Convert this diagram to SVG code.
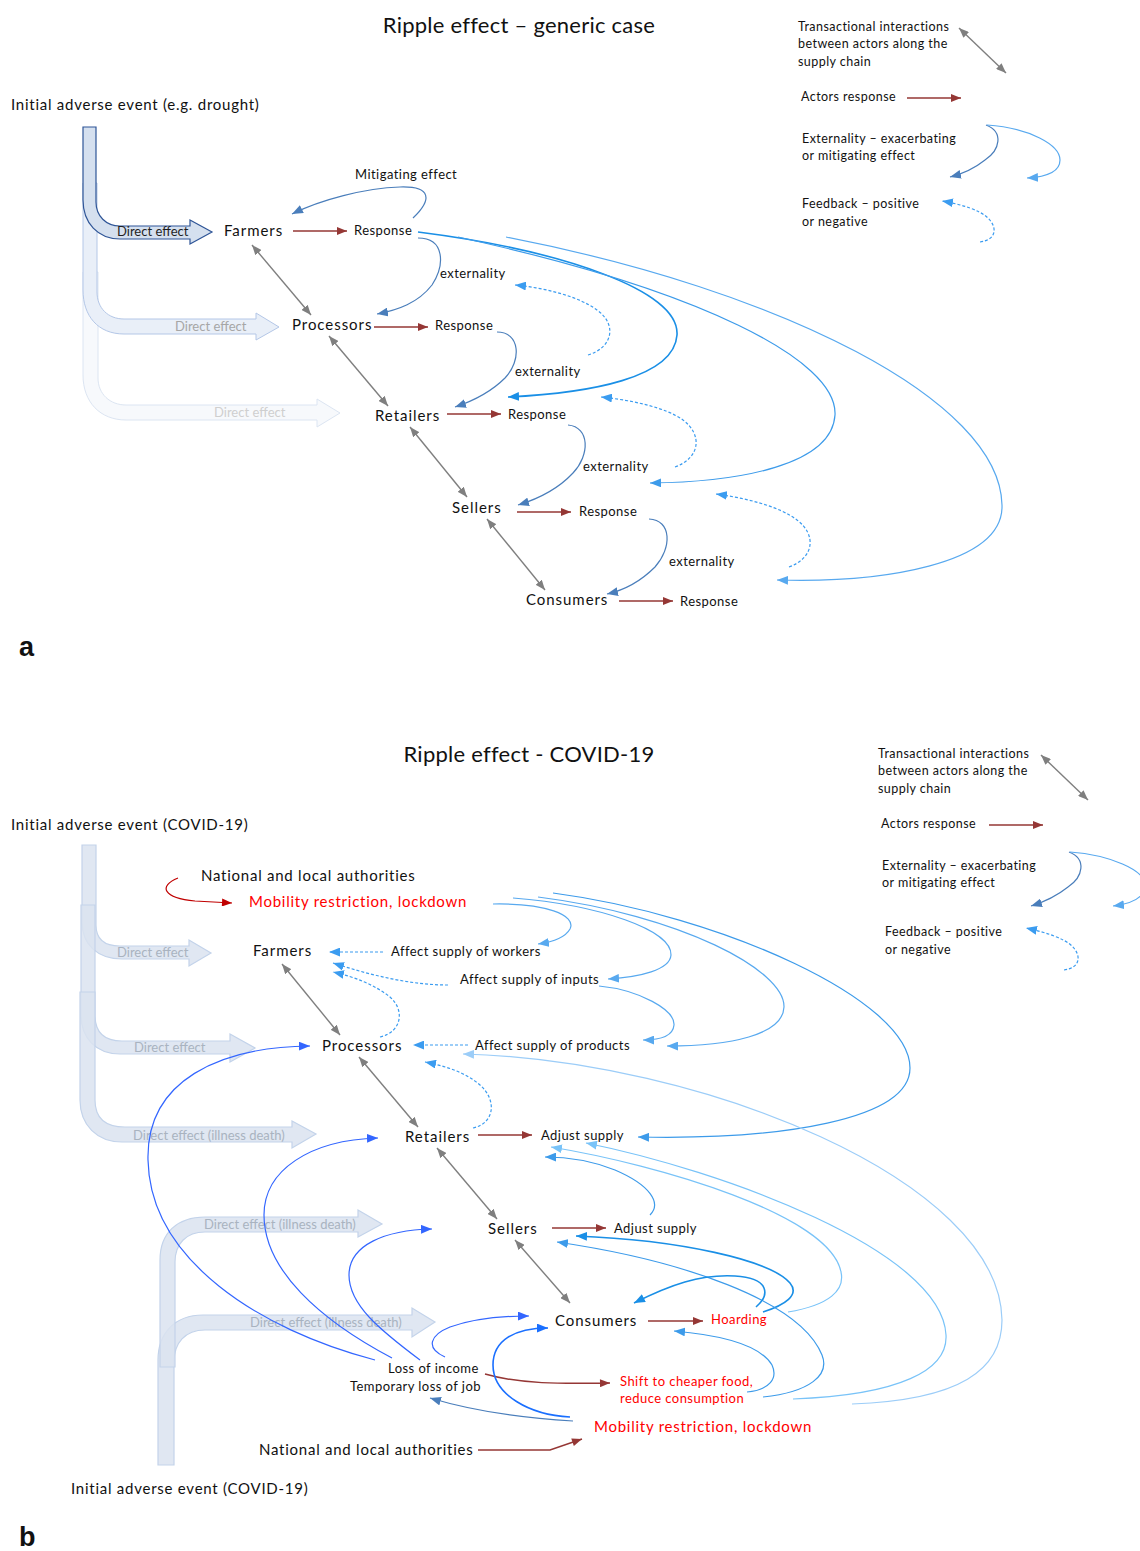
<svg xmlns="http://www.w3.org/2000/svg" width="1140" height="1551" viewBox="0 0 1140 1551">
<style>
text{font-family:Lato,"Liberation Sans",sans-serif;fill:#111}
.ttl{font-size:22px;letter-spacing:0.25px}
.lg{font-size:12.5px;letter-spacing:0.45px}
.nd{font-size:15px;letter-spacing:0.95px}
.sm{font-size:13px;letter-spacing:0.45px}
.big{font-size:15px;letter-spacing:0.75px}
.red{fill:#ff0000}
.lab{font-size:27px;font-weight:bold;font-family:"Liberation Sans",Arial,sans-serif}
.de1{font-size:13px;fill:#1f1f1f}
.de2{font-size:13px;fill:#a6a6a6}
.de3{font-size:13px;fill:#cfcfcf}
.deb{font-size:13px;fill:#a9b3c0}
.c{fill:none;stroke-width:1.2}
.rd{stroke:#953735;stroke-width:1.5;marker-end:url(#mR)}
.gr{stroke:#7f7f7f;stroke-width:1.4;marker-end:url(#mG);marker-start:url(#mG)}
.st{stroke:#4a7ebb;marker-end:url(#mS)}
.b1{stroke:#1a8fe6;stroke-width:1.6;marker-end:url(#mB1)}
.b2{stroke:#3d9bea;marker-end:url(#mB2)}
.b3{stroke:#58a9ef;marker-end:url(#mB3)}
.b4{stroke:#79c3f8;marker-end:url(#mB4)}
.b5{stroke:#9ccdf8;marker-end:url(#mB5)}
.v{stroke:#3366ff;marker-end:url(#mV)}
.v2{stroke:#1a6fff;stroke-width:1.6;marker-end:url(#mV2)}
.ds{stroke:#3b9cf0;stroke-dasharray:3,2;marker-end:url(#mD)}
.sa{fill:#d5e0ef;stroke:#2f5597;stroke-width:1.2}
.sb{fill:#e9eff8;stroke:#b4c7e7;stroke-width:1}
.sc{fill:#f7f9fc;stroke:#dce5f2;stroke-width:1}
.sl{fill:#dae3f0;stroke:#c3d3ea;stroke-width:1.2;fill-opacity:0.85}
</style>
<defs>
<marker id="mR" viewBox="0 0 10 8" refX="10" refY="4" markerWidth="11" markerHeight="8" markerUnits="userSpaceOnUse" orient="auto"><path d="M0,0L10,4L0,8z" fill="#953735"/></marker>
<marker id="mRB" viewBox="0 0 10 8" refX="10" refY="4" markerWidth="11" markerHeight="8" markerUnits="userSpaceOnUse" orient="auto"><path d="M0,0L10,4L0,8z" fill="#c00000"/></marker>
<marker id="mG" viewBox="0 0 10 8" refX="10" refY="4" markerWidth="10" markerHeight="8" markerUnits="userSpaceOnUse" orient="auto-start-reverse"><path d="M0,0L10,4L0,8z" fill="#7f7f7f"/></marker>
<marker id="mS" viewBox="0 0 10 8" refX="10" refY="4" markerWidth="11" markerHeight="9" markerUnits="userSpaceOnUse" orient="auto"><path d="M0,0L10,4L0,8z" fill="#4a7ebb"/></marker>
<marker id="mB1" viewBox="0 0 10 8" refX="10" refY="4" markerWidth="11" markerHeight="9" markerUnits="userSpaceOnUse" orient="auto"><path d="M0,0L10,4L0,8z" fill="#1a8fe6"/></marker>
<marker id="mB2" viewBox="0 0 10 8" refX="10" refY="4" markerWidth="11" markerHeight="9" markerUnits="userSpaceOnUse" orient="auto"><path d="M0,0L10,4L0,8z" fill="#3d9bea"/></marker>
<marker id="mB3" viewBox="0 0 10 8" refX="10" refY="4" markerWidth="11" markerHeight="9" markerUnits="userSpaceOnUse" orient="auto"><path d="M0,0L10,4L0,8z" fill="#58a9ef"/></marker>
<marker id="mB4" viewBox="0 0 10 8" refX="10" refY="4" markerWidth="11" markerHeight="9" markerUnits="userSpaceOnUse" orient="auto"><path d="M0,0L10,4L0,8z" fill="#79c3f8"/></marker>
<marker id="mB5" viewBox="0 0 10 8" refX="10" refY="4" markerWidth="11" markerHeight="9" markerUnits="userSpaceOnUse" orient="auto"><path d="M0,0L10,4L0,8z" fill="#9ccdf8"/></marker>
<marker id="mV" viewBox="0 0 10 8" refX="10" refY="4" markerWidth="11" markerHeight="9" markerUnits="userSpaceOnUse" orient="auto"><path d="M0,0L10,4L0,8z" fill="#3366ff"/></marker>
<marker id="mV2" viewBox="0 0 10 8" refX="10" refY="4" markerWidth="11" markerHeight="9" markerUnits="userSpaceOnUse" orient="auto"><path d="M0,0L10,4L0,8z" fill="#1a6fff"/></marker>
<marker id="mD" viewBox="0 0 10 8" refX="10" refY="4" markerWidth="11" markerHeight="9" markerUnits="userSpaceOnUse" orient="auto"><path d="M0,0L10,4L0,8z" fill="#3b9cf0"/></marker>
</defs>
<rect width="1140" height="1551" fill="#fff"/>

<!-- ===================== PART A ===================== -->
<text class="ttl" x="519" y="33" text-anchor="middle">Ripple effect – generic case</text>
<g id="legend-a">
<text class="lg" x="798" y="31">Transactional interactions</text>
<text class="lg" x="798" y="48">between actors along the</text>
<text class="lg" x="798" y="66">supply chain</text>
<text class="lg" x="801" y="101">Actors response</text>
<text class="lg" x="802" y="143">Externality – exacerbating</text>
<text class="lg" x="802" y="160">or mitigating effect</text>
<text class="lg" x="802" y="208">Feedback – positive</text>
<text class="lg" x="802" y="226">or negative</text>
<path class="c gr" d="M959,28L1006,73"/>
<path class="c rd" d="M907,98L961,98"/>
<path class="c st" d="M986,125C1004,132 1000,150 985,160C975,168 962,174 950,177"/>
<path class="c b3" d="M987,125C1030,128 1060,145 1060,160C1060,172 1045,177 1027,178"/>
<path class="c ds" d="M980,242C996,240 998,228 988,218C980,210 960,204 942,201"/>
</g>

<text class="big" x="11" y="110">Initial adverse event (e.g.  drought)</text>
<g id="direct-a">
<path class="sc" d="M83,272L83,375C83,402 100,420 126,420L317,420L317,427L340,413L317,399L317,405L126,405C110,405 98,394 98,378L98,272Z"/>
<path class="sb" d="M83,183L83,290C83,316 98,334 124,334L256,334L256,340L279,327L256,313L256,319L124,319C108,319 97,308 97,292L97,183Z"/>
<path class="sa" d="M83,127L83,200C83,223 98,239 120,239L190,239L190,244L212,232L190,220L190,226L120,226C106,226 96,216 96,202L96,127Z"/>
<text class="de1" x="117" y="236">Direct effect</text>
<text class="de2" x="175" y="331">Direct effect</text>
<text class="de3" x="214" y="417">Direct effect</text>
</g>

<g id="a-farmers"><text class="nd" x="224" y="236">Farmers</text></g>
<g id="a-farmers-resp"><text class="sm" x="354" y="235">Response</text></g>
<g id="a-mitig"><text class="sm" x="355" y="179">Mitigating effect</text></g>
<g id="a-ext1"><text class="sm" x="440" y="278">externality</text></g>
<g id="a-processors"><text class="nd" x="292" y="330">Processors</text></g>
<g id="a-proc-resp"><text class="sm" x="435" y="330">Response</text></g>
<g id="a-ext2"><text class="sm" x="515" y="376">externality</text></g>
<g id="a-retailers"><text class="nd" x="375" y="421">Retailers</text></g>
<g id="a-ret-resp"><text class="sm" x="508" y="419">Response</text></g>
<g id="a-ext3"><text class="sm" x="583" y="471">externality</text></g>
<g id="a-sellers"><text class="nd" x="452" y="513">Sellers</text></g>
<g id="a-sel-resp"><text class="sm" x="579" y="516">Response</text></g>
<g id="a-ext4"><text class="sm" x="669" y="566">externality</text></g>
<g id="a-consumers"><text class="nd" x="526" y="605">Consumers</text></g>
<g id="a-con-resp"><text class="sm" x="680" y="606">Response</text></g>

<g id="connectors-a">
<path class="c rd" d="M293,231L347,231"/>
<path class="c rd" d="M374,327L428,327"/>
<path class="c rd" d="M447,414L501,414"/>
<path class="c rd" d="M517,512L571,512"/>
<path class="c rd" d="M619,601L673,601"/>
<path class="c gr" d="M252,245L311,315"/>
<path class="c gr" d="M329,336L388,406"/>
<path class="c gr" d="M410,427L467,497"/>
<path class="c gr" d="M487,519L545,590"/>
<path class="c st" d="M413,218C432,200 432,186 400,187C365,188 320,200 292,214"/>
<path class="c st" d="M418,238C445,238 445,265 432,285C418,303 398,310 377,314"/>
<path class="c st" d="M497,332C520,332 522,360 505,378C490,393 470,402 455,407"/>
<path class="c st" d="M568,425C590,427 590,455 573,473C558,489 538,499 518,505"/>
<path class="c st" d="M649,519C672,520 672,548 655,567C640,582 625,590 607,594"/>
<path class="c ds" d="M588,355C612,348 618,325 597,310C578,296 545,288 515,285"/>
<path class="c ds" d="M675,467C700,458 703,435 683,420C665,407 630,400 601,397"/>
<path class="c ds" d="M789,567C814,558 817,535 797,520C779,506 745,498 716,494"/>
<path class="c b1" d="M418,232C560,250 680,290 677,335C674,378 590,393 508,397"/>
<path class="c b2" d="M458,237C700,290 838,360 835,415C832,465 740,482 650,483"/>
<path class="c b3" d="M506,237C780,290 1000,400 1002,505C1004,565 880,583 777,580"/>
</g>
<text class="lab" x="19" y="656">a</text>

<!-- ===================== PART B ===================== -->
<text class="ttl" x="529" y="762" text-anchor="middle">Ripple effect - COVID-19</text>
<g id="legend-b">
<text class="lg" x="878" y="758">Transactional interactions</text>
<text class="lg" x="878" y="775">between actors along the</text>
<text class="lg" x="878" y="793">supply chain</text>
<text class="lg" x="881" y="828">Actors response</text>
<text class="lg" x="882" y="870">Externality – exacerbating</text>
<text class="lg" x="882" y="887">or mitigating effect</text>
<text class="lg" x="885" y="936">Feedback – positive</text>
<text class="lg" x="885" y="954">or negative</text>
<path class="c gr" d="M1041,755L1088,800"/>
<path class="c rd" d="M989,825L1043,825"/>
<path class="c st" d="M1069,852C1087,859 1083,877 1068,887C1058,895 1044,902 1031,906"/>
<path class="c b3" d="M1070,852C1110,855 1145,870 1145,885C1145,898 1130,904 1113,906"/>
<path class="c ds" d="M1064,970C1080,968 1082,956 1072,946C1064,938 1044,932 1026,928"/>
</g>

<text class="big" x="11" y="830">Initial adverse event (COVID-19)</text>
<g id="direct-b">
<path class="sl" d="M82,845L96,845L96,925C96,940 105,946 120,946L189,946L189,940L211,953L189,966L189,959L122,959C98,959 82,945 82,922Z"/>
<path class="sl" d="M81,905L95,905L95,1015C95,1032 104,1041 122,1041L230,1041L230,1034L255,1048L230,1062L230,1054L120,1054C96,1054 81,1038 81,1015Z"/>
<path class="sl" d="M80,992L95,992L95,1100C95,1118 105,1127 125,1127L292,1127L292,1121L316,1134L292,1148L292,1142L122,1142C97,1142 80,1125 80,1100Z"/>
<path class="sl" d="M158,1465L158,1360C158,1333 175,1315 203,1315L412,1315L412,1308L435,1322L412,1337L412,1330L205,1330C185,1330 174,1343 174,1362L174,1465Z"/>
<path class="sl" d="M160,1367L160,1260C160,1233 177,1217 205,1217L358,1217L358,1210L382,1224L358,1237L358,1232L205,1232C186,1232 175,1244 175,1262L175,1367Z"/>
<text class="deb" x="117" y="957">Direct effect</text>
<text class="deb" x="134" y="1052">Direct effect</text>
<text class="deb" x="133" y="1140">Direct effect (illness death)</text>
<text class="deb" x="204" y="1229">Direct effect (illness death)</text>
<text class="deb" x="250" y="1327">Direct effect (illness death)</text>
</g>

<g id="b-auth-top"><text class="big" x="201" y="881">National and local authorities</text></g>
<g id="b-mob-top"><text class="big red" x="249" y="907">Mobility restriction, lockdown</text></g>
<g id="b-farmers"><text class="nd" x="253" y="956">Farmers</text></g>
<g id="b-workers"><text class="sm" x="391" y="956">Affect supply of workers</text></g>
<g id="b-inputs"><text class="sm" x="460" y="984">Affect supply of inputs</text></g>
<g id="b-processors"><text class="nd" x="322" y="1051">Processors</text></g>
<g id="b-products"><text class="sm" x="475" y="1050">Affect supply of products</text></g>
<g id="b-retailers"><text class="nd" x="405" y="1142">Retailers</text></g>
<g id="b-ret-adj"><text class="sm" x="541" y="1140">Adjust supply</text></g>
<g id="b-sellers"><text class="nd" x="488" y="1234">Sellers</text></g>
<g id="b-sel-adj"><text class="sm" x="614" y="1233">Adjust supply</text></g>
<g id="b-consumers"><text class="nd" x="555" y="1326">Consumers</text></g>
<g id="b-hoarding"><text class="sm red" x="711" y="1324">Hoarding</text></g>
<g id="b-income"><text class="sm" x="388" y="1373">Loss of income</text><text class="sm" x="350" y="1391">Temporary loss of job</text></g>
<g id="b-shift"><text class="sm red" x="620" y="1386">Shift to cheaper food,</text><text class="sm red" x="620" y="1403">reduce consumption</text></g>
<g id="b-mob-bot"><text class="big red" x="594" y="1432">Mobility restriction, lockdown</text></g>
<g id="b-auth-bot"><text class="big" x="259" y="1455">National and local authorities</text></g>
<text class="big" x="71" y="1494">Initial adverse event (COVID-19)</text>

<g id="connectors-b">
<path class="c" stroke="#c00000" stroke-width="1.4" marker-end="url(#mRB)" d="M178,878C158,886 163,898 195,901L232,903"/>
<path class="c rd" d="M478,1135L532,1135"/>
<path class="c rd" d="M552,1228L606,1228"/>
<path class="c rd" d="M648,1321L703,1321"/>
<path class="c rd" d="M485,1374C520,1384 560,1384 610,1383"/>
<path class="c rd" d="M478,1450L550,1450L582,1439"/>
<path class="c gr" d="M282,964L340,1035"/>
<path class="c gr" d="M359,1057L418,1127"/>
<path class="c gr" d="M437,1148L497,1219"/>
<path class="c gr" d="M515,1240L570,1303"/>
<path class="c ds" d="M383,952L329,952"/>
<path class="c ds" d="M448,985C410,985 370,975 333,963"/>
<path class="c ds" d="M380,1037C402,1032 405,1010 390,997C375,985 355,977 333,972"/>
<path class="c ds" d="M468,1045L413,1045"/>
<path class="c ds" d="M473,1128C495,1123 497,1100 480,1085C465,1072 445,1066 425,1062"/>
<path class="c b3" d="M493,904C545,903 577,915 570,929C565,938 552,942 538,944"/>
<path class="c b3" d="M513,898C600,905 672,930 671,955C670,970 640,977 608,979"/>
<path class="c b3" d="M599,986C640,990 675,1010 674,1025C673,1037 660,1040 643,1040"/>
<path class="c b3" d="M538,897C680,915 785,970 784,1007C783,1035 730,1046 667,1046"/>
<path class="c b2" d="M553,893C720,915 910,1000 910,1068C910,1120 780,1140 638,1137"/>
<path class="c b5" d="M852,1404C960,1400 1002,1370 1002,1320C1000,1180 700,1060 463,1054"/>
<path class="c b4" d="M793,1399C900,1395 948,1370 946,1335C942,1250 720,1170 586,1143"/>
<path class="c b4" d="M788,1312C830,1305 845,1290 841,1272C830,1215 660,1165 551,1147"/>
<path class="c b2" d="M650,1215C662,1203 650,1185 615,1170C590,1160 565,1157 545,1157"/>
<path class="c b1" d="M763,1312C785,1305 800,1295 790,1283C770,1260 680,1240 576,1236"/>
<path class="c b2" d="M763,1397C810,1392 830,1375 822,1355C800,1300 680,1260 557,1242"/>
<path class="c b1" d="M756,1307C770,1295 770,1278 735,1276C700,1274 670,1285 634,1303"/>
<path class="c b2" d="M747,1392C770,1390 778,1378 772,1365C760,1345 720,1335 674,1331"/>
<path class="c v" d="M375,1360C260,1330 150,1260 148,1160C146,1080 220,1047 310,1046"/>
<path class="c v" d="M392,1358C320,1320 264,1270 264,1215C264,1170 310,1140 378,1138"/>
<path class="c v" d="M420,1360C380,1330 349,1305 349,1275C349,1245 385,1230 432,1229"/>
<path class="c v" d="M445,1357C425,1348 430,1335 450,1327C470,1320 500,1316 529,1316"/>
<path class="c v2" d="M570,1417C530,1415 493,1395 493,1365C493,1340 515,1328 548,1328"/>
<path class="c st" d="M573,1421C520,1418 470,1410 430,1398"/>
</g>
<text class="lab" x="19" y="1546">b</text>
</svg>
